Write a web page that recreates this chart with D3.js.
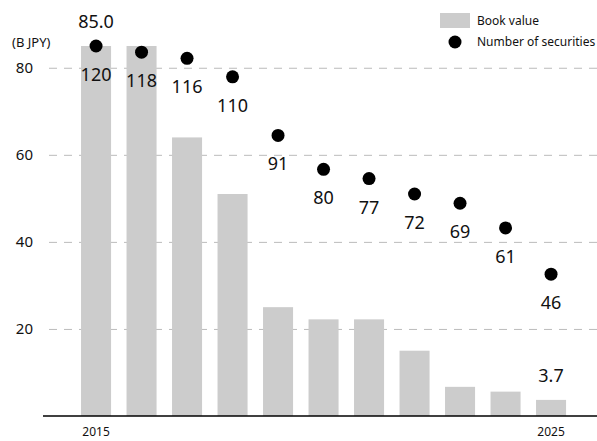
<!DOCTYPE html>
<html>
<head>
<meta charset="utf-8">
<script src="https://cdn.jsdelivr.net/npm/d3@7"></script>
<style>
  body { margin: 0; background: #fff; }
  text { font-family: "Noto Sans", sans-serif; fill: #111; }
</style>
</head>
<body>
<div id="chart"></div>
<script>
// data
var years = ["2015", "2016", "2017", "2018", "2019", "2020", "2021", "2022", "2023", "2024", "2025"];
var bookValue = [85.0, 85.0, 64, 51, 25, 22.2, 22.2, 15, 6.7, 5.6, 3.7];
var securities = [120, 118, 116, 110, 91, 80, 77, 72, 69, 61, 46];
var yTicks = [20, 40, 60, 80];
var shownYears = ["2015", "2025"];
var barLabels = { "2015": "85.0", "2025": "3.7" };

var W = 597, H = 441;
var baseY = 416, topY = 46;

var svg = d3.select("#chart")
    .append("svg")
    .attr("width", W)
    .attr("height", H);

var x = d3.scaleBand()
    .domain(years)
    .range([73.3, 573.8])
    .paddingInner(0.34)
    .paddingOuter(0.17);

// left axis (book value) and hidden right scale (number of securities)
var y = d3.scaleLinear().domain([0, 85]).range([baseY, topY]);
var y2 = d3.scaleLinear().domain([0, 120]).range([baseY, topY]);

// grid lines + tick labels
var yAxis = svg.append("g")
    .attr("transform", "translate(49,0)")
    .call(d3.axisLeft(y)
        .tickValues(yTicks)
        .tickSize(-(W - 49))
        .tickPadding(16));
yAxis.select(".domain").remove();
yAxis.selectAll(".tick line")
    .attr("stroke", "#bbb")
    .attr("stroke-dasharray", "8,7");
yAxis.selectAll(".tick text")
    .style("font-size", "15px")
    .style("font-family", "Noto Sans, sans-serif")
    .attr("fill", "#111");

svg.append("text")
    .attr("x", 12)
    .attr("y", 47)
    .style("font-size", "13px")
    .text("(B JPY)");

// bars
svg.selectAll(".bar")
    .data(years)
    .enter()
    .append("rect")
    .attr("class", "bar")
    .attr("x", function (d) { return x(d); })
    .attr("width", x.bandwidth())
    .attr("y", function (d, i) { return y(bookValue[i]); })
    .attr("height", function (d, i) { return baseY - y(bookValue[i]); })
    .attr("fill", "#cccccc");

// baseline
svg.append("line")
    .attr("x1", 43).attr("x2", W)
    .attr("y1", baseY).attr("y2", baseY)
    .attr("stroke", "#000")
    .attr("stroke-width", 1.6);

// bar value labels (first and last only)
svg.selectAll(".barLabel")
    .data(years.filter(function (d) { return barLabels[d]; }))
    .enter()
    .append("text")
    .attr("class", "barLabel")
    .attr("x", function (d) { return x(d) + x.bandwidth() / 2; })
    .attr("y", function (d) { return y(bookValue[years.indexOf(d)]) - 18; })
    .attr("text-anchor", "middle")
    .style("font-size", "18px")
    .text(function (d) { return barLabels[d]; });

// dots
svg.selectAll(".dot")
    .data(years)
    .enter()
    .append("circle")
    .attr("class", "dot")
    .attr("cx", function (d) { return x(d) + x.bandwidth() / 2; })
    .attr("cy", function (d, i) { return y2(securities[i]); })
    .attr("r", 6.5)
    .attr("fill", "#000");

svg.selectAll(".dotLabel")
    .data(years)
    .enter()
    .append("text")
    .attr("class", "dotLabel")
    .attr("x", function (d) { return x(d) + x.bandwidth() / 2; })
    .attr("y", function (d, i) { return y2(securities[i]) + 35; })
    .attr("text-anchor", "middle")
    .style("font-size", "18px")
    .text(function (d, i) { return securities[i]; });

// year labels
svg.selectAll(".year")
    .data(shownYears)
    .enter()
    .append("text")
    .attr("class", "year")
    .attr("x", function (d) { return x(d) + x.bandwidth() / 2; })
    .attr("y", 436)
    .attr("text-anchor", "middle")
    .style("font-size", "12px")
    .text(function (d) { return d; });

// legend
var legend = svg.append("g");
legend.append("rect")
    .attr("x", 440).attr("y", 13)
    .attr("width", 30).attr("height", 15)
    .attr("fill", "#cccccc");
legend.append("text")
    .attr("x", 477).attr("y", 25)
    .style("font-size", "12px")
    .text("Book value");
legend.append("circle")
    .attr("cx", 455).attr("cy", 42)
    .attr("r", 6.5)
    .attr("fill", "#000");
legend.append("text")
    .attr("x", 477).attr("y", 46)
    .style("font-size", "12px")
    .text("Number of securities");
</script>
</body>
</html>
